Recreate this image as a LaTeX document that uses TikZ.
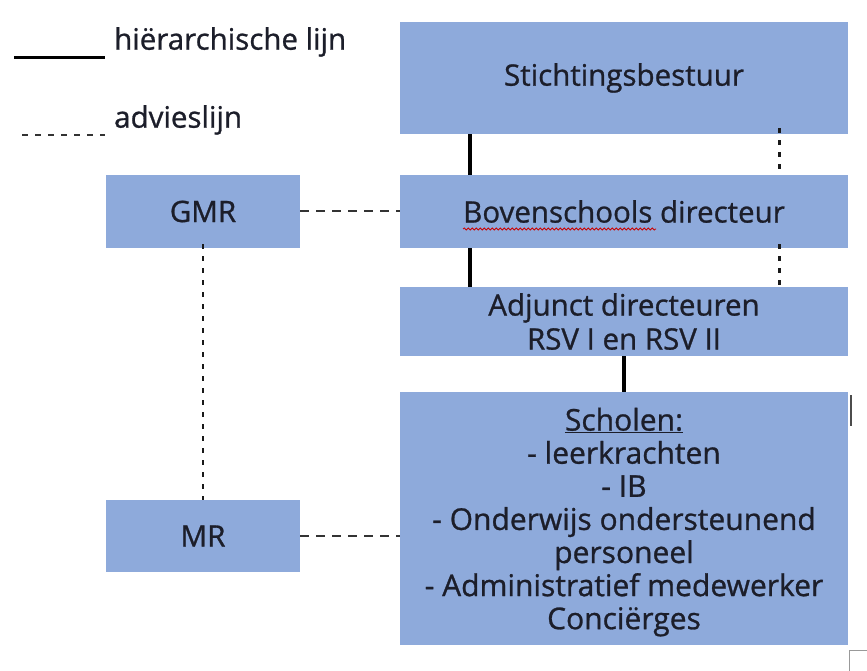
\documentclass[tikz,border=0pt]{standalone}
\usepackage{fontspec}
\setmainfont{Open Sans}[FakeBold=0.6]
\newfontfamily\boxfont{Open Sans}[FakeBold=0.9]
\usetikzlibrary{decorations.pathmorphing}
\definecolor{boxblue}{HTML}{8EAADB}
\definecolor{ink}{HTML}{1C1E2A}
\tikzset{
  box/.style={rectangle, fill=boxblue, draw=none, text=ink, align=center, inner sep=0pt, font=\boxfont\fontsize{29.5}{36}\selectfont},
  hier/.style={line width=4pt, black},
  adv/.style={line width=2pt, black!80, dash pattern=on 9pt off 7pt},
  advv/.style={line width=2.6pt, black!90, dash pattern=on 5pt off 7pt},
  legtext/.style={anchor=west, text=ink, inner sep=0pt, font=\boxfont\fontsize{29.5}{32}\selectfont}
}
\begin{document}
\begin{tikzpicture}[x=1pt,y=-1pt]
\useasboundingbox (0,0) rectangle (867,671);
% legend
\coordinate (l1a) at (14,58);
\coordinate (l1b) at (105,58);
\coordinate (l2a) at (22,135);
\coordinate (l2b) at (105,135);
\draw[line width=3pt] (l1a) -- (l1b);
\draw[line width=1.8pt, black!80, dash pattern=on 6pt off 7pt] (l2a) -- (l2b);
\node[legtext] (lt1) at (114,42) {hiërarchische lijn};
\node[legtext] (lt2) at (114,120) {advieslijn};
% boxes
\node[box, minimum width=448pt, minimum height=112pt] (st) at (624,78) {Stichtingsbestuur};
\node[box, minimum width=194pt, minimum height=73pt] (gmr) at (203,211.5) {GMR};
\node[box, minimum width=448pt, minimum height=73pt] (bov) at (624,211.5) {Bovenschools directeur};
\node[box, minimum width=448pt, minimum height=69pt, font=\boxfont\fontsize{29.5}{34}\selectfont] (adj) at (624,321.5) {Adjunct directeuren\\RSV I en RSV II};
\node[box, minimum width=448pt, minimum height=253pt, text depth=0pt, font=\boxfont\fontsize{30}{33.1}\selectfont] (sch) at (624,518.5) {\underline{Scholen:}\\- leerkrachten\\- IB\\- Onderwijs ondersteunend\\personeel\\- Administratief medewerker\\Conciërges};
\node[box, minimum width=194pt, minimum height=72pt] (mr) at (203,536) {MR};
% hierarchical lines
\draw[hier] ([xshift=70pt]st.south west) -- ([xshift=70pt]bov.north west);
\draw[hier] ([xshift=70pt]bov.south west) -- ([xshift=70pt]adj.north west);
\draw[hier] (adj.south) -- (sch.north);
% advisory lines
\draw[advv] ([xshift=-69pt,yshift=6pt]st.south east) -- ([xshift=-69pt]bov.north east);
\draw[advv] ([xshift=-69pt,yshift=4pt]bov.south east) -- ([xshift=-69pt]adj.north east);
\draw[adv] (gmr.east) -- (bov.west);
\draw[adv] (mr.east) -- (sch.west |- mr.east);
\draw[advv] ([yshift=4pt]gmr.south) -- (mr.north);
% spell-check squiggle
\coordinate (sqa) at (463,229);
\coordinate (sqb) at (656,229);
\draw[red!80!black, line width=0.8pt, decorate, decoration={snake, amplitude=1pt, segment length=4pt}] (sqa) -- (sqb);
% cursor and corner marks
\coordinate (cu1) at (851,395);
\coordinate (cu2) at (851,426);
\draw[black!70, line width=2pt] (cu1) -- (cu2);
\coordinate (co1) at (849,671);
\coordinate (co2) at (849,650);
\coordinate (co3) at (867,650);
\draw[black!40, line width=0.8pt] (co1) -- (co2) -- (co3);
\end{tikzpicture}
\end{document}
